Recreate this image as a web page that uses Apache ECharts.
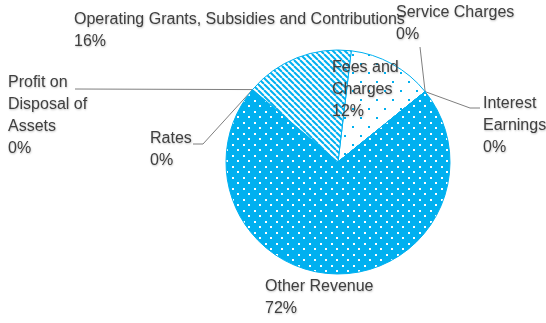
<!DOCTYPE html>
<html><head><meta charset="utf-8">
<script src="https://cdn.jsdelivr.net/npm/echarts@6/dist/echarts.min.js"></script>
<style>html,body{margin:0;padding:0;background:#fff}#c{width:546px;height:323px}</style>
</head><body><div id="c"></div>
<script>
// ---- data ----
const categories = ['Fees and Charges', 'Service Charges', 'Interest Earnings', 'Other Revenue', 'Rates', 'Profit on Disposal of Assets', 'Operating Grants, Subsidies and Contributions'];
const labelTexts = ['Fees and\nCharges', 'Service Charges', 'Interest\nEarnings', 'Other Revenue', 'Rates', 'Profit on\nDisposal of\nAssets', 'Operating Grants, Subsidies and Contributions'];
const values = [12.3, 0, 0, 72.0, 0, 0, 15.7];

// ---- style ----
const blue = '#00B0F0';
function tile(w, h, bg, draw) {
  const c = document.createElement('canvas');
  c.width = w; c.height = h;
  const g = c.getContext('2d');
  g.fillStyle = bg; g.fillRect(0, 0, w, h);
  draw(g);
  return c;
}
const densePattern = tile(11, 11, blue, g => { g.fillStyle = '#fff'; g.fillRect(1, 1, 2, 2); g.fillRect(6, 6, 2, 2); });
const sparsePattern = tile(16, 18, '#fff', g => { g.fillStyle = blue; g.fillRect(0, 0, 2, 2); g.fillRect(8, 9, 2, 2); });
const stripePattern = tile(6, 6, '#fff', g => {
  g.strokeStyle = blue; g.lineWidth = 2;
  for (const o of [-6, 0, 6]) { g.beginPath(); g.moveTo(o, 0); g.lineTo(o + 6, 6); g.stroke(); }
});
const fills = [sparsePattern, null, null, densePattern, null, null, stripePattern];

// label placement (top-left of text block) and leader line bends
const labelPos = [
  { x: 332, y: 57 },
  { x: 396, y: 2 },
  { x: 483, y: 93 },
  { x: 265, y: 276 },
  { x: 150, y: 128 },
  { x: 8, y: 72 },
  { x: 74, y: 9 }
];
const leader = [
  null,
  [[420, 47], [420, 47]],
  [[470, 108], [480, 108]],
  null,
  [[203, 144], [193, 144]],
  [[75, 89], [75, 89]],
  null
];

const chart = echarts.init(document.getElementById('c'), null, { renderer: 'canvas' });
chart.setOption({
  animation: false,
  backgroundColor: '#fff',
  series: [{
    type: 'pie',
    center: [338, 162],
    radius: 112,
    startAngle: 83.2,
    clockwise: true,
    percentPrecision: 0,
    avoidLabelOverlap: false,
    minShowLabelAngle: -1,
    itemStyle: { borderColor: blue, borderWidth: 1 },
    label: {
      show: true,
      position: 'outside',
      fontFamily: 'Liberation Sans Narrow, Liberation Sans, sans-serif',
      fontSize: 16,
      lineHeight: 22,
      color: '#404040',
      textShadowColor: 'rgba(0,0,0,0.25)',
      textShadowBlur: 2,
      textShadowOffsetX: 0.5,
      textShadowOffsetY: 0.5,
      formatter: p => labelTexts[p.dataIndex] + '\n' + p.percent + '%'
    },
    labelLine: { show: true, lineStyle: { color: '#7f7f7f', width: 1 } },
    labelLayout: p => {
      const i = p.dataIndex;
      const out = { x: labelPos[i].x, y: labelPos[i].y, align: 'left', verticalAlign: 'top' };
      if (leader[i] && p.labelLinePoints) {
        out.labelLinePoints = [p.labelLinePoints[0], leader[i][0], leader[i][1]];
      }
      return out;
    },
    emphasis: { disabled: true },
    data: categories.map((name, i) => ({
      name: name,
      value: values[i],
      itemStyle: fills[i] ? { color: { image: fills[i], repeat: 'repeat' } } : { color: blue },
      labelLine: { show: !!leader[i] }
    }))
  }]
});
</script>
</body></html>
